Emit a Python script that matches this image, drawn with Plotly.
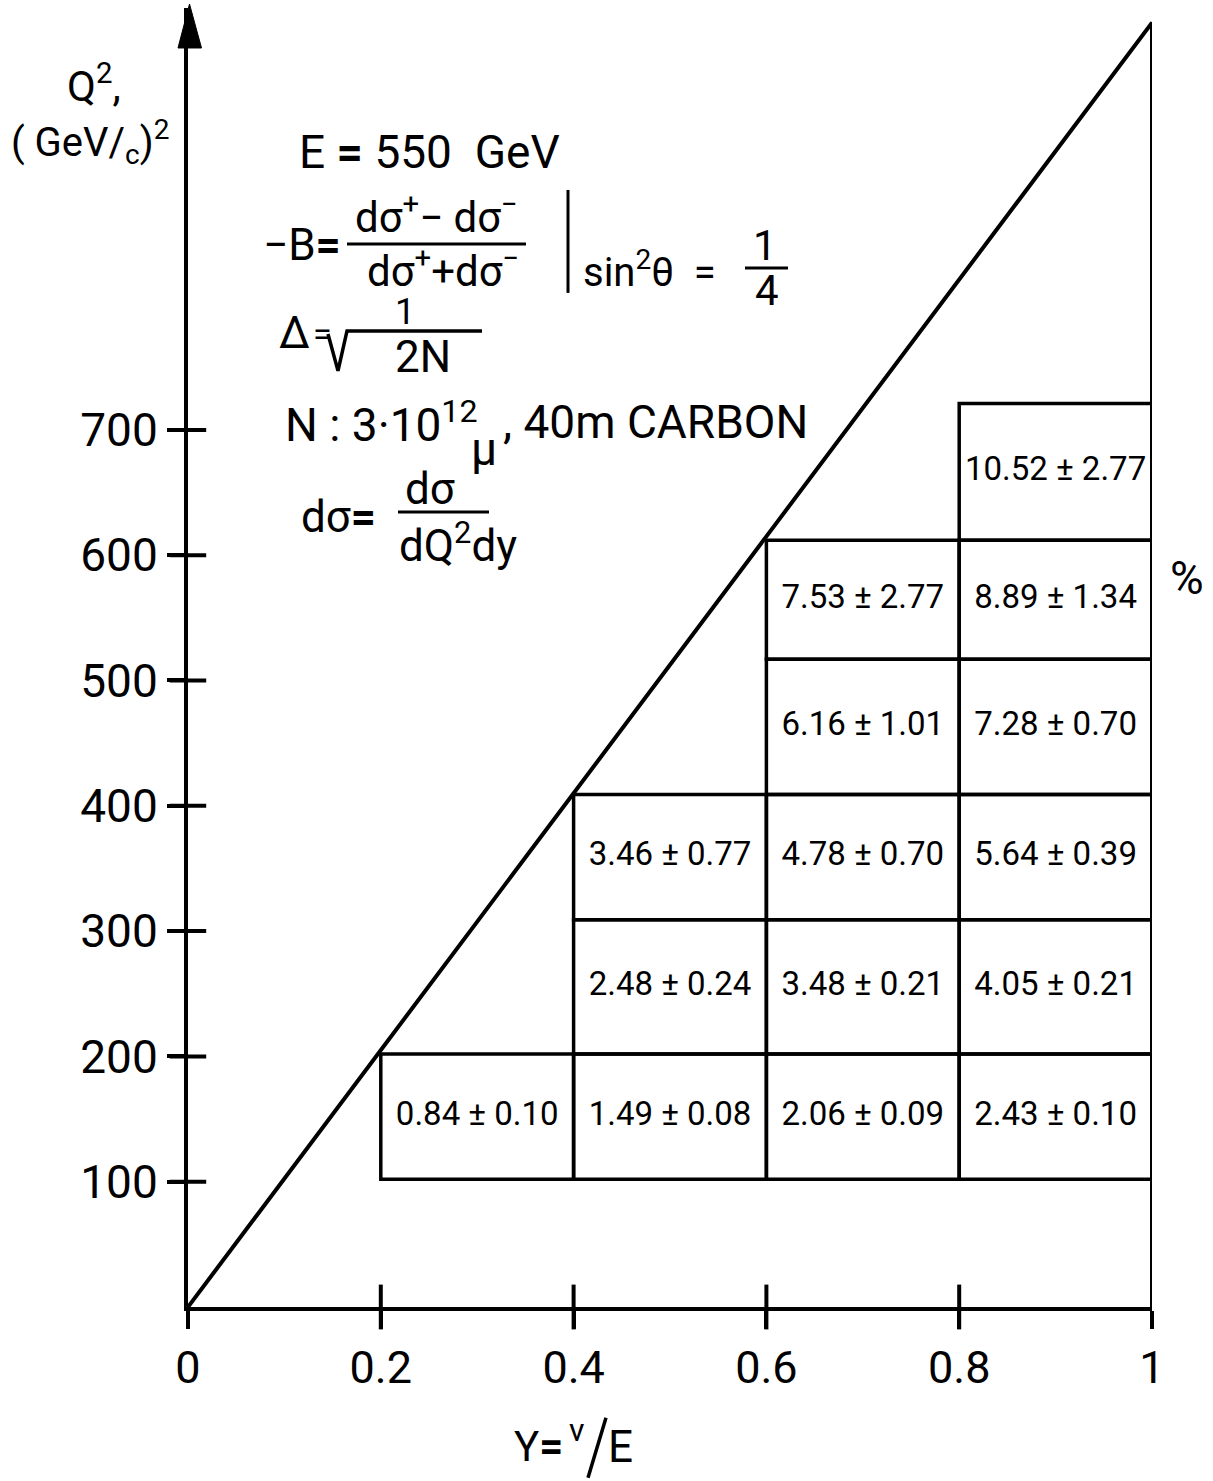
import plotly.graph_objects as go

# ---- data ---------------------------------------------------------------
# y = nu/E bin edges (columns) and Q^2 bin edges (rows) in (GeV/c)^2
y_edges = [0.2, 0.4, 0.6, 0.8, 1.0]
q2_edges = [102, 202, 309, 409, 517, 612, 721]

# kinematic limit of Q^2 reached at y = 1
q2_limit = 1025

# asymmetry -B (percent) and its error in each (y, Q^2) cell
cell_col = [0, 1, 2, 3, 1, 2, 3, 1, 2, 3, 2, 3, 2, 3, 3]
cell_row = [0, 0, 0, 0, 1, 1, 1, 2, 2, 2, 3, 3, 4, 4, 5]
asym = [0.84, 1.49, 2.06, 2.43, 2.48, 3.48, 4.05, 3.46, 4.78, 5.64,
        6.16, 7.28, 7.53, 8.89, 10.52]
asym_err = [0.10, 0.08, 0.09, 0.10, 0.24, 0.21, 0.21, 0.77, 0.70, 0.39,
            1.01, 0.70, 2.77, 1.34, 2.77]

x_tick_vals = [0, 0.2, 0.4, 0.6, 0.8, 1]
x_tick_text = ["0", "0.2", "0.4", "0.6", "0.8", "1"]
y_tick_vals = [100, 200, 300, 400, 500, 600, 700]

# ---- page geometry --------------------------------------------------------
W, H = 1213, 1481
L, R, T, B = 188, 61, 8, 173.7
PW = W - L - R
PH = H - T - B
Y_TOP = (H - B - T) / 1.2533  # Q^2 value at the top edge of the plot area

FONT = "Roboto"
INK = "black"
LW = 4


def px(x):
    return (x - L) / PW


def py(y):
    return (H - B - y) / PH


def label(x, y, text, size=44, xanchor="left"):
    return dict(x=px(x), y=py(y), xref="paper", yref="paper", text=text,
                showarrow=False, xanchor=xanchor, yanchor="middle",
                borderpad=0,
                font=dict(family=FONT, size=size, color=INK))


def seg(x0, y0, x1, y1, w=3):
    return dict(type="line", xref="paper", yref="paper",
                x0=px(x0), y0=py(y0), x1=px(x1), y1=py(y1),
                line=dict(color=INK, width=w))


fig = go.Figure()

# kinematic boundary: Q^2_max = q2_limit * y, closed by the y = 1 edge
fig.add_trace(go.Scatter(
    x=[0, 1, 1], y=[0, q2_limit, 0], mode="lines",
    line=dict(color=INK, width=LW), hoverinfo="skip", showlegend=False))

# cell borders and the asymmetry written in each cell
shapes = []
cx, cy, ctext = [], [], []
for c, r, a, e in zip(cell_col, cell_row, asym, asym_err):
    x0, x1 = y_edges[c], y_edges[c + 1]
    y0, y1 = q2_edges[r], q2_edges[r + 1]
    shapes.append(dict(type="rect", xref="x", yref="y", x0=x0, x1=x1,
                       y0=y0, y1=y1, line=dict(color=INK, width=3.5),
                       fillcolor="rgba(0,0,0,0)", layer="above"))
    cx.append((x0 + x1) / 2)
    cy.append((y0 + y1) / 2)
    ctext.append(f"{a:.2f} ± {e:.2f}")

fig.add_trace(go.Scatter(
    x=cx, y=cy, mode="text", text=ctext, textposition="middle center",
    textfont=dict(family=FONT, size=33, color=INK),
    hoverinfo="skip", showlegend=False))

# inner halves of the tick marks, so that ticks cross the axes
fig.add_trace(go.Scatter(
    x=x_tick_vals[1:-1], y=[0] * (len(x_tick_vals) - 2), mode="markers",
    marker=dict(symbol="line-ns", size=32, line=dict(color=INK, width=LW)),
    cliponaxis=False, hoverinfo="skip", showlegend=False))
fig.add_trace(go.Scatter(
    x=[0] * len(y_tick_vals), y=y_tick_vals, mode="markers",
    marker=dict(symbol="line-ew", size=26, line=dict(color=INK, width=LW)),
    cliponaxis=False, hoverinfo="skip", showlegend=False))

# arrow head on the Q^2 axis
shapes.append(dict(
    type="path", xref="paper", yref="paper",
    path=f"M {px(178)},{py(48)} L {px(189.5)},{py(4)} L {px(201.5)},{py(48)} Z",
    fillcolor=INK, line=dict(color=INK, width=1)))

# formula block: -B fraction, bar and 1/4
shapes.append(seg(347, 244, 526, 244))
shapes.append(seg(568, 190, 568, 293))
shapes.append(seg(745, 268, 788, 268))
# Delta = 1 / sqrt(2N)
shapes.append(dict(type="path", xref="paper", yref="paper",
                   path=(f"M {px(328)},{py(334)} L {px(338)},{py(371)} "
                         f"L {px(347)},{py(331)} L {px(482)},{py(331)}"),
                   line=dict(color=INK, width=3.5)))
# d sigma definition
shapes.append(seg(398, 512, 489, 512))
# slash of the y = nu/E title
shapes.append(seg(588, 1478, 606, 1418, 3.5))

annotations = [
    label(66, 84, "Q<sup>2</sup>,", 42),
    label(10, 142, "( GeV/<sub>c</sub>)<sup>2</sup>", 40),
    label(298, 152, "E <b>=</b> 550  GeV", 46),
    label(262, 245, "−B<b>=</b>", 44),
    label(436, 215, "dσ<sup>+</sup>− dσ<sup>−</sup>", 42, "center"),
    label(443, 269, "dσ<sup>+</sup>+dσ<sup>−</sup>", 42, "center"),
    label(582, 270, "sin<sup>2</sup>θ  =", 40),
    label(765, 246, "1", 42, "center"),
    label(767, 291, "4", 42, "center"),
    label(278, 333, "Δ", 44),
    label(322, 334, "=", 34, "center"),
    label(405, 312, "1", 36, "center"),
    label(423, 357, "2N", 44, "center"),
    label(284, 422, "N : 3·10<sup>12</sup>", 46),
    label(484, 449, "μ", 46, "center"),
    label(502, 422, ", 40m CARBON", 46),
    label(300, 517, "dσ<b>=</b>", 44),
    label(430, 489, "dσ", 44, "center"),
    label(458, 543, "dQ<sup>2</sup>dy", 44, "center"),
    label(1187, 578, "%", 46, "center"),
    label(513, 1447, "Y<b>=</b>", 42),
    label(577, 1430, "ν", 32, "center"),
    label(607, 1447, "E", 44),
]

fig.update_layout(
    width=W, height=H, autosize=False,
    margin=dict(l=L, r=R, t=T, b=B, pad=0),
    paper_bgcolor="white", plot_bgcolor="white",
    shapes=shapes, annotations=annotations, showlegend=False,
    xaxis=dict(range=[0, 1], tickvals=x_tick_vals, ticktext=x_tick_text,
               ticks="outside", ticklen=18, tickwidth=LW, tickcolor=INK,
               showline=True, linecolor=INK, linewidth=LW,
               showgrid=False, zeroline=False,
               tickfont=dict(family=FONT, size=45, color=INK)),
    yaxis=dict(range=[0, Y_TOP], tickvals=y_tick_vals,
               ticks="outside", ticklen=17, tickwidth=LW, tickcolor=INK,
               showline=True, linecolor=INK, linewidth=LW,
               showgrid=False, zeroline=False,
               tickfont=dict(family=FONT, size=46, color=INK)),
)

fig.write_html("out.html")
